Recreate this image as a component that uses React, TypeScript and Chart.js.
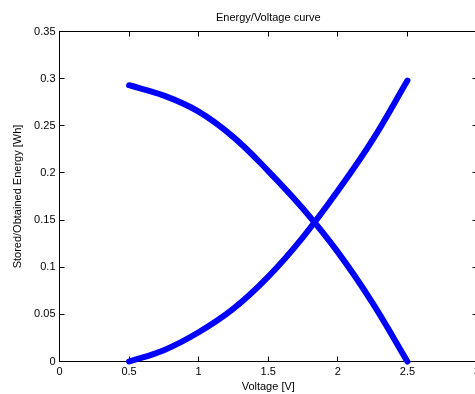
import React, { useEffect, useRef } from "react";
import { Chart, registerables } from "chart.js";

Chart.register(...registerables);

// Data
const voltage = [0.5, 0.75, 1.0, 1.25, 1.5, 1.75, 2.0, 2.25, 2.5];
const storedEnergy = [0, 0.012, 0.031, 0.056, 0.09, 0.132, 0.181, 0.235, 0.298];
const obtainedEnergy = [0.293, 0.282, 0.265, 0.238, 0.202, 0.162, 0.116, 0.062, 0];
const xTicks = [0, 0.5, 1, 1.5, 2, 2.5, 3];
const yTicks = [0, 0.05, 0.1, 0.15, 0.2, 0.25, 0.3, 0.35];

const chartTitle = "Energy/Voltage curve";
const xTitle = "Voltage [V]";
const yTitle = "Stored/Obtained Energy [Wh]";

const FONT = "'Liberation Sans', Arial, Helvetica, sans-serif";
const fmt = (v: number) => String(Number(v.toFixed(2)));

const framePlugin = {
  id: "matlabFrame",
  beforeDatasetsDraw(chart: any) {
    const { ctx, chartArea: a, scales } = chart;
    const x = scales.x;
    const y = scales.y;
    const snap = (p: number) => Math.floor(p) + 0.5;
    const L = 5;
    ctx.save();
    ctx.strokeStyle = "#000";
    ctx.lineWidth = 1;
    const l = snap(a.left), r = snap(a.right), t = snap(a.top), b = snap(a.bottom);
    ctx.strokeRect(l, t, r - l, b - t);
    ctx.beginPath();
    x.ticks.forEach((tk: any) => {
      const px = snap(x.getPixelForValue(tk.value));
      ctx.moveTo(px, b);
      ctx.lineTo(px, b - L);
      ctx.moveTo(px, t);
      ctx.lineTo(px, t + L);
    });
    y.ticks.forEach((tk: any) => {
      const py = snap(y.getPixelForValue(tk.value));
      ctx.moveTo(l, py);
      ctx.lineTo(l + L, py);
      ctx.moveTo(r, py);
      ctx.lineTo(r - L, py);
    });
    ctx.stroke();
    ctx.restore();
  },
};

export default function App() {
  const ref = useRef<HTMLCanvasElement | null>(null);

  useEffect(() => {
    if (!ref.current) return;
    const lineStyle = {
      borderColor: "#0000ff",
      backgroundColor: "#0000ff",
      borderWidth: 6,
      pointRadius: 0,
      tension: 0.4,
      borderCapStyle: "round" as const,
      borderJoinStyle: "round" as const,
      fill: false,
      clip: false as any,
    };
    const chart = new Chart(ref.current, {
      type: "line",
      data: {
        datasets: [
          {
            label: "Stored",
            data: voltage.map((v, i) => ({ x: v, y: storedEnergy[i] })),
            ...lineStyle,
          },
          {
            label: "Obtained",
            data: voltage.map((v, i) => ({ x: v, y: obtainedEnergy[i] })),
            ...lineStyle,
          },
        ],
      },
      options: {
        responsive: false,
        animation: false,
        devicePixelRatio: 1,
        layout: { padding: { left: 0, right: 23, top: 0, bottom: 0 } },
        plugins: {
          legend: { display: false },
          tooltip: { enabled: false },
          title: {
            display: true,
            text: chartTitle,
            fullSize: false,
            color: "#000",
            font: { family: FONT, size: 11, weight: "normal", lineHeight: 1.2 },
            padding: { top: 10.9, bottom: 7.4 },
          },
        },
        scales: {
          x: {
            type: "linear",
            min: 0,
            max: 3,
            grid: { display: false, drawTicks: false },
            border: { display: false },
            afterBuildTicks: (s: any) => {
              s.ticks = xTicks.map((v) => ({ value: v }));
            },
            afterFit: (s: any) => {
              s.height = 32.5;
            },
            ticks: {
              color: "#000",
              padding: 4,
              maxRotation: 0,
              autoSkip: false,
              font: { family: FONT, size: 11 },
              callback: (v: any) => fmt(Number(v)),
            },
            title: {
              display: true,
              text: xTitle,
              color: "#000",
              font: { family: FONT, size: 11, lineHeight: 1.2 },
              padding: { top: 0, bottom: 0 },
            },
          },
          y: {
            type: "linear",
            min: 0,
            max: 0.35,
            grid: { display: false, drawTicks: false },
            border: { display: false },
            afterBuildTicks: (s: any) => {
              s.ticks = yTicks.map((v) => ({ value: v }));
            },
            afterFit: (s: any) => {
              s.width = 59.5;
            },
            ticks: {
              color: "#000",
              padding: 4,
              autoSkip: false,
              font: { family: FONT, size: 11 },
              callback: (v: any) => fmt(Number(v)),
            },
            title: {
              display: true,
              text: yTitle,
              color: "#000",
              font: { family: FONT, size: 11, lineHeight: 1.2 },
              padding: { top: 11.4, bottom: 0 },
            },
          },
        },
      },
      plugins: [framePlugin],
    });
    return () => chart.destroy();
  }, []);

  return (
    <div
      style={{
        position: "fixed",
        left: 0,
        top: 0,
        width: 475,
        height: 394,
        overflow: "hidden",
        background: "#fff",
      }}
    >
      <canvas ref={ref} width={500} height={394} style={{ width: 500, height: 394, display: "block" }} />
    </div>
  );
}
